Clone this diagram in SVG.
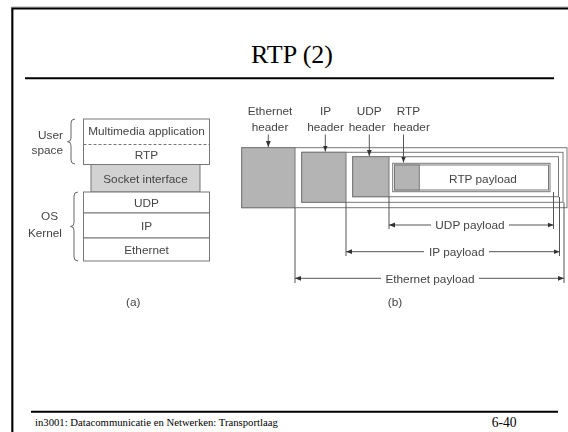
<svg xmlns="http://www.w3.org/2000/svg" width="568" height="432" viewBox="0 0 568 432">
  <defs>
    <filter id="soft" x="-5%" y="-5%" width="110%" height="110%">
      <feGaussianBlur stdDeviation="0.7"/>
    </filter>
    <marker id="tip" viewBox="0 0 6 6" refX="6" refY="3" markerWidth="6" markerHeight="6" markerUnits="userSpaceOnUse" orient="auto-start-reverse">
      <path d="M0,0.6 L6,3 L0,5.4 Z" fill="#333"/>
    </marker>
  </defs>
  <style>
    .frame { stroke: #000; stroke-width: 2; fill: none; }
    .title { font-family: "Liberation Serif", "Times New Roman", serif; fill: #000; }
    .lbl { font-family: "Liberation Sans", Arial, sans-serif; font-size: 11.8px; fill: #444; }
    .mid { text-anchor: middle; }
    .end { text-anchor: end; }
    .box { fill: #fff; stroke: #777; stroke-width: 1; }
    .hdr { fill: #b4b4b4; stroke: #777; stroke-width: 1; }
    .sock { fill: #d2d2d2; stroke: #777; stroke-width: 1; }
    .ln { stroke: #555; stroke-width: 1; fill: none; }
    .brace { stroke: #666; stroke-width: 1; fill: none; }
  </style>

  <rect width="568" height="432" fill="#fff"/>

  <!-- slide frame and rules -->
  <path d="M11.5,432 V7 H568" stroke="#aaa" stroke-width="1" fill="none"/>
  <path class="frame" d="M12.4,432 V8.4 H568"/>
  <line class="frame" x1="25" y1="78.2" x2="554" y2="78.2"/>
  <line class="frame" x1="31" y1="411.8" x2="558" y2="411.8"/>

  <text class="title" x="292" y="62.5" font-size="26" text-anchor="middle">RTP (2)</text>
  <text class="title" x="35" y="426" font-size="10.7">in3001: Datacommunicatie en Netwerken: Transportlaag</text>
  <text class="title" x="491.7" y="426.7" font-size="13.6">6-40</text>

  <g filter="url(#soft)">
    <!-- (a) protocol stack -->
    <g id="user-space">
      <rect class="box" x="83.5" y="119" width="126" height="45.5"/>
      <line x1="83.5" y1="144.5" x2="209.5" y2="144.5" stroke="#777" stroke-dasharray="3 2"/>
      <text class="lbl mid" x="146.5" y="135">Multimedia application</text>
      <text class="lbl mid" x="146.5" y="158.5">RTP</text>
      <path class="brace" d="M75,119 Q71,119 71,123 L71,138 Q71,141.7 67.5,141.7 Q71,141.7 71,145.5 L71,160 Q71,164 75,164"/>
      <text class="lbl end" x="63" y="139">User</text>
      <text class="lbl end" x="63" y="153.5">space</text>
    </g>
    <g id="socket-interface">
      <rect class="sock" x="91" y="164.5" width="109" height="27.5"/>
      <text class="lbl mid" x="145.5" y="182.8">Socket interface</text>
    </g>
    <g id="os-kernel">
      <rect class="box" x="83.5" y="192" width="126" height="21"/>
      <rect class="box" x="83.5" y="213" width="126" height="25"/>
      <rect class="box" x="83.5" y="238" width="126" height="23"/>
      <text class="lbl mid" x="146.5" y="206.8">UDP</text>
      <text class="lbl mid" x="146.5" y="230">IP</text>
      <text class="lbl mid" x="146.5" y="254">Ethernet</text>
      <path class="brace" d="M78,192 Q74,192 74,196 L74,222.5 Q74,226.5 70.5,226.5 Q74,226.5 74,230.5 L74,257 Q74,261 78,261"/>
      <text class="lbl end" x="58" y="220">OS</text>
      <text class="lbl end" x="62" y="236.5">Kernel</text>
    </g>
    <text class="lbl mid" x="133.3" y="305.5">(a)</text>

    <!-- (b) nested packet layout -->
    <g id="ethernet-frame">
      <rect class="box" x="241.7" y="147.7" width="325.3" height="60"/>
      <rect class="hdr" x="241.7" y="147.7" width="53.3" height="60"/>
    </g>
    <g id="ip-packet">
      <rect class="box" x="301.7" y="152.3" width="261.3" height="50"/>
      <rect class="hdr" x="301.7" y="152.3" width="44.3" height="50"/>
    </g>
    <g id="udp-packet">
      <rect class="box" x="352.7" y="156.7" width="205.8" height="40"/>
      <rect class="hdr" x="352.7" y="156.7" width="36.3" height="40"/>
    </g>
    <g id="rtp-packet">
      <rect class="box" x="392.7" y="163.3" width="157.3" height="28.4"/>
      <rect class="box" x="394.5" y="165" width="154" height="25"/>
      <rect class="hdr" x="394.5" y="165" width="24.8" height="25"/>
      <text class="lbl mid" x="483" y="182.5">RTP payload</text>
    </g>

    <g id="header-labels">
      <text class="lbl mid" x="270" y="115">Ethernet</text>
      <text class="lbl mid" x="270" y="131">header</text>
      <text class="lbl mid" x="325.5" y="115">IP</text>
      <text class="lbl mid" x="325.5" y="131">header</text>
      <text class="lbl mid" x="369.3" y="115">UDP</text>
      <text class="lbl mid" x="367" y="131">header</text>
      <text class="lbl mid" x="408.5" y="115">RTP</text>
      <text class="lbl mid" x="411.5" y="131">header</text>
    </g>
    <text class="lbl mid" x="395" y="305.5">(b)</text>

    <g id="connectors">
      <!-- header pointers -->
      <line class="ln" x1="268.3" y1="134.5" x2="268.3" y2="147" marker-end="url(#tip)"/>
      <line class="ln" x1="325.3" y1="134.5" x2="325.3" y2="151.5" marker-end="url(#tip)"/>
      <line class="ln" x1="369.3" y1="134.5" x2="369.3" y2="156" marker-end="url(#tip)"/>
      <line class="ln" x1="403.5" y1="134.5" x2="403.5" y2="162.5" marker-end="url(#tip)"/>

      <!-- extension lines -->
      <line class="ln" x1="389" y1="196.7" x2="389" y2="229"/>
      <line class="ln" x1="553.5" y1="192" x2="553.5" y2="229"/>
      <line class="ln" x1="346" y1="202.3" x2="346" y2="256"/>
      <line class="ln" x1="559.5" y1="197" x2="559.5" y2="256"/>
      <line class="ln" x1="295" y1="207.7" x2="295" y2="283"/>
      <line class="ln" x1="564" y1="202.5" x2="564" y2="283"/>

      <!-- payload dimensions -->
      <line class="ln" x1="389" y1="225" x2="431" y2="225" marker-start="url(#tip)"/>
      <line class="ln" x1="509" y1="225" x2="553.5" y2="225" marker-end="url(#tip)"/>
      <line class="ln" x1="346" y1="251.7" x2="424" y2="251.7" marker-start="url(#tip)"/>
      <line class="ln" x1="489" y1="251.7" x2="559.5" y2="251.7" marker-end="url(#tip)"/>
      <line class="ln" x1="295" y1="278.3" x2="381" y2="278.3" marker-start="url(#tip)"/>
      <line class="ln" x1="479" y1="278.3" x2="564" y2="278.3" marker-end="url(#tip)"/>
    </g>
    <text class="lbl mid" x="470" y="229.3">UDP payload</text>
    <text class="lbl mid" x="456.7" y="256">IP payload</text>
    <text class="lbl mid" x="430" y="282.6">Ethernet payload</text>
  </g>
</svg>
